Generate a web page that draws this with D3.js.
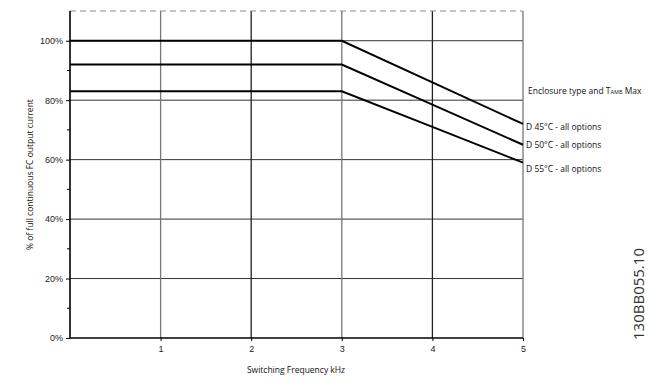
<!DOCTYPE html>
<html>
<head>
<meta charset="utf-8">
<script src="https://cdn.jsdelivr.net/npm/d3@7"></script>
<style>
body { margin: 0; background: #fff; }
svg { display: block; }
</style>
</head>
<body>
<div id="chart-area"></div>
<script>
// data
var freq = [0, 1, 2, 3, 4, 5]
var xTicks = [1, 2, 3, 4, 5]
var yTicks = [0, 20, 40, 60, 80, 100]
var yMinor = [10, 30, 50, 70, 90]
var seriesNames = ["D 45°C - all options", "D 50°C - all options", "D 55°C - all options"]
var s45 = [100, 100, 100, 100, 86, 72]
var s50 = [92, 92, 92, 92, 78.5, 65]
var s55 = [83, 83, 83, 83, 71, 59]
var labelY = [71, 65, 57]

var width = 657
var height = 388
var margin = {top: 11, right: 134, bottom: 50, left: 70}
var w = width - margin.left - margin.right
var h = height - margin.top - margin.bottom

var svg = d3.select("#chart-area").append("svg")
.attr("width", width)
.attr("height", height)

var g = svg.append("g")
.attr("transform", "translate(" + margin.left + ", " + margin.top + ")")

var x = d3.scaleLinear().domain([0, 5]).range([0, w])
var y = d3.scaleLinear().domain([0, 110]).range([h, 0])

// grid
g.selectAll(".hgrid").data(yTicks.filter(d => d > 0)).enter().append("line")
.attr("x1", 0).attr("x2", w)
.attr("y1", d => y(d)).attr("y2", d => y(d))
.attr("stroke", "#333").attr("stroke-width", 1)

g.selectAll(".vgrid").data(xTicks).enter().append("line")
.attr("x1", d => x(d)).attr("x2", d => x(d))
.attr("y1", y(110)).attr("y2", h)
.attr("stroke", (d, i) => i % 2 == 0 ? "#777" : "#222").attr("stroke-width", 1.3)

// top dashed border
g.append("line")
.attr("x1", 0).attr("x2", w)
.attr("y1", y(110)).attr("y2", y(110))
.attr("stroke", "#888").attr("stroke-dasharray", "6,4").attr("stroke-width", 1)

// axes
var yAxis = d3.axisLeft(y).tickValues(yTicks).tickSize(4).tickPadding(3)
.tickFormat(d => d + "%")
var yAxisGroup = g.append("g").call(yAxis)
yAxisGroup.select(".domain").remove()
yAxisGroup.selectAll("text").attr("font-family", "Liberation Sans, Arial").attr("font-size", "9px").attr("fill", "#222")

g.selectAll(".minor").data(yMinor).enter().append("line")
.attr("x1", -3).attr("x2", 0)
.attr("y1", d => y(d)).attr("y2", d => y(d))
.attr("stroke", "#000")

g.append("line")
.attr("x1", 0).attr("x2", 0).attr("y1", y(110)).attr("y2", h)
.attr("stroke", "#000").attr("stroke-width", 1.6)

var xAxis = d3.axisBottom(x).tickValues(xTicks).tickSize(3).tickPadding(5)
.tickFormat(d3.format("d"))
var xAxisGroup = g.append("g").attr("transform", "translate(0, " + h + ")").call(xAxis)
xAxisGroup.select(".domain").remove()
xAxisGroup.selectAll("text").attr("font-family", "Liberation Sans, Arial").attr("font-size", "9px").attr("fill", "#222")

g.append("line")
.attr("x1", 0).attr("x2", w).attr("y1", h).attr("y2", h)
.attr("stroke", "#000").attr("stroke-width", 1.6)

// series
var line = d3.line().x((d, i) => x(freq[i])).y(d => y(d))
;[s45, s50, s55].forEach(s => {
	g.append("path").datum(s)
	.attr("d", line)
	.attr("fill", "none")
	.attr("stroke", "#000")
	.attr("stroke-width", 2)
})

// labels
var lbl = g.append("g").attr("font-family", "Open Sans, DejaVu Sans").attr("font-size", "8.5px").attr("fill", "#111")
seriesNames.forEach((n, i) => {
	lbl.append("text").attr("x", w + 3).attr("y", y(labelY[i]) + 3).text(n)
})
var t = lbl.append("text").attr("x", w + 5).attr("y", y(83) + 3)
t.append("tspan").text("Enclosure type and T")
t.append("tspan").attr("font-size", "5.5px").text("AMB")
t.append("tspan").text(" Max")

// axis labels
g.append("text")
.attr("x", 226).attr("y", h + 35)
.attr("text-anchor", "middle")
.attr("font-family", "Open Sans, DejaVu Sans").attr("font-size", "8.5px").attr("fill", "#111")
.text("Switching Frequency kHz")

g.append("text")
.attr("transform", "rotate(-90)")
.attr("x", -(y(55)))
.attr("y", -37)
.attr("text-anchor", "middle")
.attr("font-family", "Open Sans, DejaVu Sans").attr("font-size", "8.5px").attr("fill", "#111")
.text("% of full continuous FC output current")

svg.append("text")
.attr("transform", "translate(644, 294) rotate(-90)")
.attr("text-anchor", "middle")
.attr("font-family", "Open Sans, DejaVu Sans").attr("font-size", "15px").attr("fill", "#333")
.text("130BB055.10")
</script>
</body>
</html>
